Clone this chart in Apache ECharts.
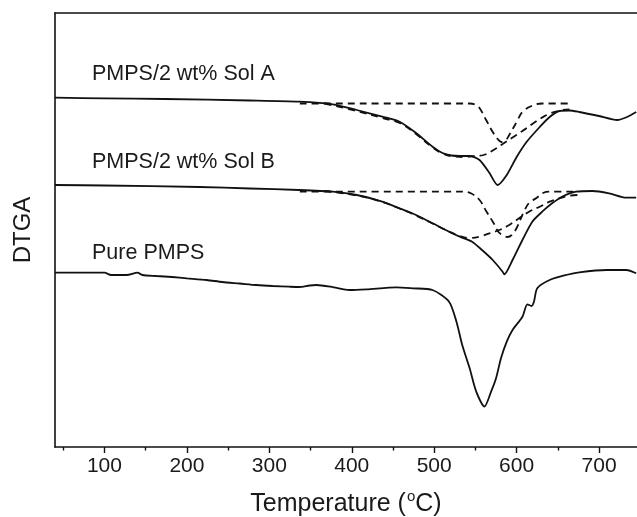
<!DOCTYPE html>
<html>
<head>
<meta charset="utf-8">
<script src="https://cdn.jsdelivr.net/npm/echarts@6/dist/echarts.min.js"></script>
<style>
  html, body { margin: 0; padding: 0; background: #fff; }
  #chart { width: 637px; height: 517px; }
</style>
</head>
<body>
<div id="chart"></div>
<script>
// temperature (C), DTGA (a.u., curves offset vertically)
const solA = [[40,349.3],[100,348.7],[173,348],[276,346.5],[336,345.3],[377,342.7],[406,337],[437,330.3],[458,325.3],[478,314],[498,300.3],[510,294],[521,291.5],[531,291],[543,291],[555,287],[567,274],[577,262],[588,272],[600,290],[612,305],[628,320],[640,330],[652,336],[664,336.5],[676,335],[700,331],[722,327],[734,330],[745,335]];
const solAPeak1 = [[337,343.5],[543,343.5],[551,342],[555,339],[563,327],[571,315],[577,308],[581.5,305],[587,307],[591,312],[600,325],[607,335],[618,341],[631,343.5],[666,343.5]];
const solAPeak2 = [[367,343.5],[406,336],[437,329],[458,324],[478,313],[498,299.5],[510,293.5],[524,290.5],[539,290],[549,291],[560,292],[571,296.5],[583,303],[595,309.5],[607,316],[619,323],[631,329.5],[642,334],[656,337],[664,337.7]];

const solB = [[40,262],[100,261.5],[215,260],[276,258.5],[336,257],[377,255.3],[406,252],[437,245.3],[458,238.7],[478,232],[498,223.7],[518,215.3],[531,210.3],[546,205.3],[558,197],[571,187],[583,175.3],[585,172.7],[595,187],[607,207],[619,225.3],[631,235.3],[643,243.7],[655,250.3],[672,255.3],[692,256],[712,253.7],[733,249.3],[745,249.3]];
const solBPeak1 = [[337,255.3],[535,255.3],[545,253.5],[555,247],[563,236],[572,224],[578,215],[583,212],[589,210],[594,212],[600,219],[608,234],[615,244],[624,249],[632,254],[640,255.3],[672,255.3]];
const solBPeak2 = [[367,256],[406,251.5],[437,245],[458,238.5],[478,231.5],[498,223.5],[518,215.5],[531,211],[543,209],[555,210.3],[567,213.7],[579,217],[591,222],[603,228.7],[615,235.3],[628,240.3],[640,245.3],[652,248.7],[664,251.3],[674,252]];

const pure = [[40,174.3],[100,174.3],[108,172],[127,172],[140,174.3],[146,172],[163,171],[182,170],[200,168.7],[224,167],[243,165],[264,163.5],[284,162],[304,161],[324,160.3],[336,160],[349,161.5],[357,162],[378,159.7],[397,157],[418,157.7],[454,159.7],[474,158.7],[498,157],[518,145.3],[527,125.3],[534,102],[543,78.7],[551,55.3],[561,40.5],[569,55.3],[575,68.7],[581,88.7],[588,105.3],[595,117],[607,130.3],[613,142.7],[618,141],[621,145.3],[625,158.7],[640,167],[660,172],[676,174.7],[709,177],[733,177],[745,173.7]];

const majorTicks = [100, 200, 300, 400, 500, 600, 700];
const minorTicks = [50, 150, 250, 350, 450, 550, 650];

const FONT = "'Liberation Sans', Arial, sans-serif";
const chart = echarts.init(document.getElementById('chart'));

function curve(data, dashed) {
  return {
    type: 'line',
    data: data,
    xAxisIndex: 0,
    yAxisIndex: 0,
    symbol: 'none',
    smooth: dashed ? 0.4 : 0.25,
    silent: true,
    lineStyle: {
      color: '#111',
      width: 1.8,
      type: dashed ? [7, 5] : 'solid'
    }
  };
}

chart.setOption({
  animation: false,
  grid: { left: 55, right: 0, top: 13, bottom: 70, outerBoundsMode: 'none' },
  xAxis: [
    {
      type: 'value', min: 40, max: 746, position: 'bottom',
      name: '{t|Temperature (}{s|o}{t|C)}', nameLocation: 'middle', nameGap: 42,
      nameTextStyle: {
        rich: {
          t: { fontFamily: FONT, fontSize: 25, color: '#1a1a1a', lineHeight: 30 },
          s: { fontFamily: FONT, fontSize: 15, color: '#1a1a1a', verticalAlign: 'top', lineHeight: 30, padding: [0, 0, 0, 1] }
        }
      },
      axisLine: { lineStyle: { color: '#111', width: 1.6 } },
      axisTick: { customValues: majorTicks, length: 6, lineStyle: { color: '#111', width: 1.4 } },
      axisLabel: { customValues: majorTicks, fontFamily: FONT, fontSize: 21, color: '#1a1a1a', margin: 9 },
      splitLine: { show: false }
    },
    {
      type: 'value', min: 40, max: 746, position: 'top',
      axisLine: { lineStyle: { color: '#111', width: 1.6 } },
      axisTick: { show: false }, axisLabel: { show: false }, splitLine: { show: false }
    },
    {
      type: 'value', min: 40, max: 746, position: 'bottom',
      axisLine: { show: false },
      axisTick: { customValues: minorTicks, length: 3.5, lineStyle: { color: '#111', width: 1.4 } },
      axisLabel: { show: false }, splitLine: { show: false }
    }
  ],
  yAxis: {
    type: 'value', min: 0, max: 434,
    name: 'DTGA', nameLocation: 'middle', nameGap: 20,
    nameTextStyle: { fontFamily: FONT, fontSize: 24, color: '#1a1a1a' },
    axisLine: { show: true, lineStyle: { color: '#111', width: 1.6 } },
    axisTick: { show: false }, axisLabel: { show: false }, splitLine: { show: false }
  },
  graphic: [
    { type: 'text', left: 92, top: 63, style: { text: 'PMPS/2 wt% Sol A', font: '21.5px ' + FONT, fill: '#1a1a1a' } },
    { type: 'text', left: 92, top: 151, style: { text: 'PMPS/2 wt% Sol B', font: '21.5px ' + FONT, fill: '#1a1a1a' } },
    { type: 'text', left: 92, top: 242, style: { text: 'Pure PMPS', font: '21.5px ' + FONT, fill: '#1a1a1a' } }
  ],
  series: [
    curve(solA, false), curve(solAPeak1, true), curve(solAPeak2, true),
    curve(solB, false), curve(solBPeak1, true), curve(solBPeak2, true),
    curve(pure, false)
  ]
});
</script>
</body>
</html>
